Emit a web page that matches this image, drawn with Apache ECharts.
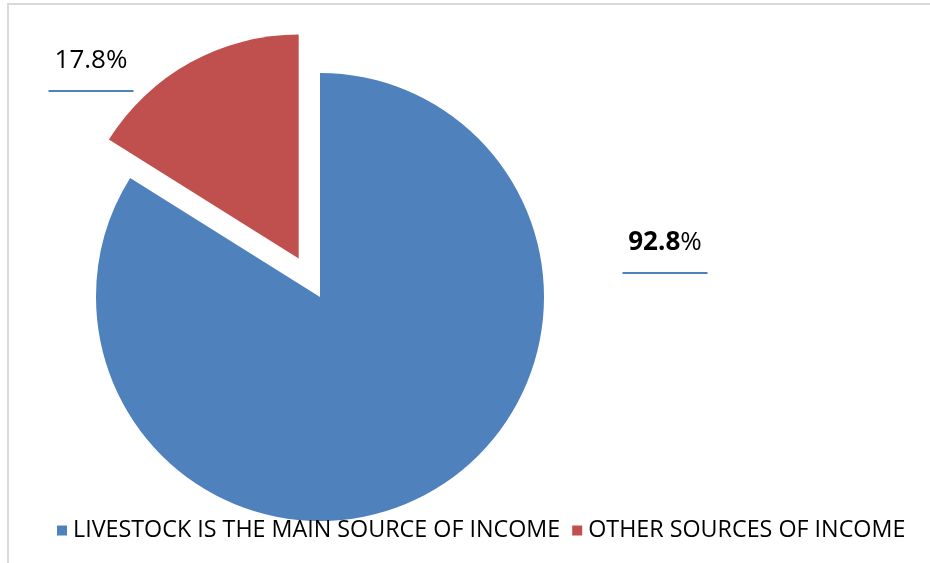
<!DOCTYPE html>
<html>
<head>
<meta charset="utf-8">
<script src="https://cdn.jsdelivr.net/npm/echarts@6/dist/echarts.min.js"></script>
<style>
  html, body { margin: 0; padding: 0; background: #fff; overflow: hidden; }
  #frame { position: absolute; left: 7px; top: 3px; width: 1000px; height: 1000px;
           border: 2px solid #d9d9d9; box-sizing: border-box; }
  #chart { position: absolute; left: 0; top: 0; width: 930px; height: 563px; }
</style>
</head>
<body>
<div id="frame"></div>
<div id="chart"></div>
<script>
// Income source shares (percent values as labelled)
const categories = ['LIVESTOCK IS THE MAIN SOURCE OF INCOME', 'OTHER SOURCES OF INCOME'];
const values = [92.8, 17.8];
const colors = ['#4f81bd', '#c0504d'];
const labelSpots = [[665, 244], [91, 62]];

const FONT = '"Open Sans", "Noto Sans", sans-serif';
const CENTER = [320, 297];
const RADIUS = [0, 224];

const chart = echarts.init(document.getElementById('chart'), null, { renderer: 'canvas' });

const labelRich = {
  b: { fontFamily: FONT, fontSize: 26, fontWeight: 'bold', color: '#000', lineHeight: 58 },
  p: { fontFamily: FONT, fontSize: 26, color: '#000', lineHeight: 58 },
  u: { width: 85, height: 2, backgroundColor: '#4f81bd', lineHeight: 2 }
};

chart.setOption({
  animation: false,
  legend: {
    data: categories,
    left: 52,
    top: 514,
    icon: 'rect',
    itemWidth: 10,
    itemHeight: 10,
    itemGap: 12,
    selectedMode: false,
    textStyle: { fontFamily: FONT, fontSize: 23.3, color: '#000', padding: [0, 0, 0, 1] }
  },
  series: [
    {
      // slices, with the smaller share pulled out
      type: 'pie',
      center: CENTER,
      radius: RADIUS,
      startAngle: 90,
      clockwise: true,
      selectedMode: 'single',
      selectedOffset: 44,
      emphasis: { disabled: true },
      label: { show: false },
      labelLine: { show: false },
      data: categories.map((name, i) => ({
        name,
        value: values[i],
        selected: i === 1,
        itemStyle: { color: colors[i] }
      }))
    },
    {
      // value labels with their underline strokes
      type: 'pie',
      center: CENTER,
      radius: RADIUS,
      startAngle: 90,
      clockwise: true,
      silent: true,
      selectedMode: false,
      emphasis: { disabled: true },
      avoidLabelOverlap: false,
      itemStyle: { color: 'rgba(0,0,0,0)' },
      labelLine: { show: false },
      label: { show: true, position: 'inside', rich: labelRich },
      labelLayout: (params) => ({
        x: labelSpots[params.dataIndex][0],
        y: labelSpots[params.dataIndex][1],
        align: 'center',
        verticalAlign: 'middle'
      }),
      data: categories.map((name, i) => ({
        name,
        value: values[i],
        label: {
          formatter: i === 0 ? '{b|' + values[i].toFixed(1) + '}{p|%}\n{u|}'
                             : '{p|' + values[i].toFixed(1) + '%}\n{u|}'
        }
      }))
    }
  ]
});
</script>
</body>
</html>
